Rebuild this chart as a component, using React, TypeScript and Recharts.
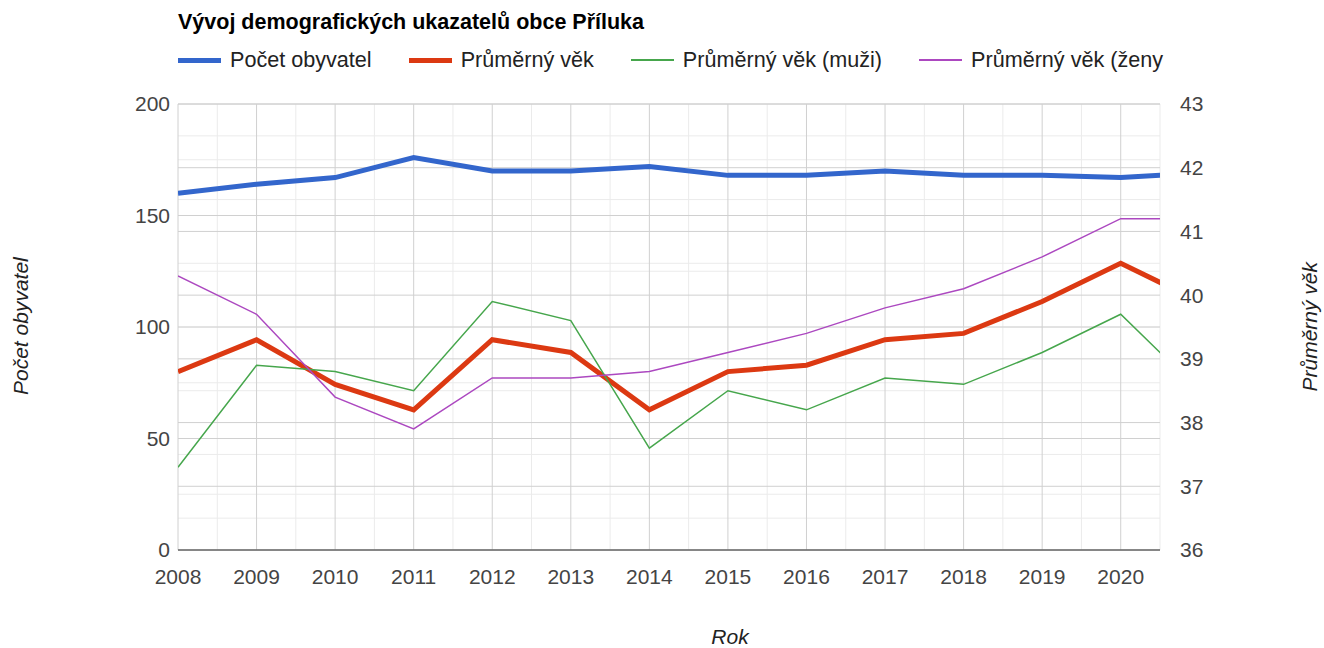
import React from 'react';
import { LineChart, Line, XAxis, YAxis, CartesianGrid } from 'recharts';

const years = [2008, 2009, 2010, 2011, 2012, 2013, 2014, 2015, 2016, 2017, 2018, 2019, 2020, 2021];
const population = [160, 164, 167, 176, 170, 170, 172, 168, 168, 170, 168, 168, 167, 169];
const avgAge = [38.8, 39.3, 38.6, 38.2, 39.3, 39.1, 38.2, 38.8, 38.9, 39.3, 39.4, 39.9, 40.5, 39.9];
const avgAgeMen = [37.3, 38.9, 38.8, 38.5, 39.9, 39.6, 37.6, 38.5, 38.2, 38.7, 38.6, 39.1, 39.7, 38.5];
const avgAgeWomen = [40.3, 39.7, 38.4, 37.9, 38.7, 38.7, 38.8, 39.1, 39.4, 39.8, 40.1, 40.6, 41.2, 41.2];

const yearTicks = [2008, 2009, 2010, 2011, 2012, 2013, 2014, 2015, 2016, 2017, 2018, 2019, 2020];
const halfYears = [2008.5, 2009.5, 2010.5, 2011.5, 2012.5, 2013.5, 2014.5, 2015.5, 2016.5, 2017.5, 2018.5, 2019.5, 2020.5];
const leftTicks = [0, 50, 100, 150, 200];
const leftMinor = [25, 75, 125, 175];
const rightTicks = [36, 37, 38, 39, 40, 41, 42, 43];
const rightMinor = [36.5, 37.5, 38.5, 39.5, 40.5, 41.5, 42.5];

const series = [
  { key: 'pop', name: 'Počet obyvatel', color: '#3366cc', width: 5, axis: 'left' },
  { key: 'age', name: 'Průměrný věk', color: '#dc3912', width: 5, axis: 'right' },
  { key: 'men', name: 'Průměrný věk (muži)', color: '#46a64c', width: 1.5, axis: 'right' },
  { key: 'women', name: 'Průměrný věk (ženy', color: '#ac48c0', width: 1.5, axis: 'right' },
];

const data = years.map((year, i) => ({
  year,
  pop: population[i],
  age: avgAge[i],
  men: avgAgeMen[i],
  women: avgAgeWomen[i],
}));

const font = '"Liberation Sans", Arial, sans-serif';
const tickStyle = { fill: '#444', fontSize: 21, fontFamily: font };
const labelStyle = { fill: '#222', fontSize: 21, fontStyle: 'italic', fontFamily: font };

const Header = () => (
  <div style={{ position: 'absolute', left: 178, top: 10, fontFamily: font, whiteSpace: 'nowrap' }}>
    <div style={{ fontWeight: 'bold', fontSize: 21.5, color: '#000', height: 30 }}>
      Vývoj demografických ukazatelů obce Příluka
    </div>
    <div style={{ display: 'flex', alignItems: 'center', fontSize: 21.6, color: '#222', marginTop: 7 }}>
      {series.map((s) => (
        <div key={s.key} style={{ display: 'flex', alignItems: 'center', marginRight: 37 }}>
          <div style={{ width: 43, height: s.width > 2 ? 5 : 2, background: s.color, marginRight: 9 }} />
          <span>{s.name}</span>
        </div>
      ))}
    </div>
  </div>
);

export default function App() {
  return (
    <div style={{ position: 'absolute', left: 0, top: 0, width: 1324, height: 648, background: '#fff', overflow: 'hidden' }}>
      <LineChart width={1324} height={648} data={data} margin={{ top: 104, right: 0, bottom: 0, left: 0 }}>
        <CartesianGrid yAxisId="left" horizontalValues={leftMinor} vertical={false} stroke="#ebebeb" />
        <CartesianGrid yAxisId="right" horizontalValues={rightMinor} vertical={false} stroke="#ebebeb" />
        <CartesianGrid verticalValues={halfYears} horizontal={false} stroke="#ebebeb" />
        <CartesianGrid yAxisId="left" horizontalValues={leftTicks} vertical={false} stroke="#d0d0d0" />
        <CartesianGrid yAxisId="right" horizontalValues={rightTicks} vertical={false} stroke="#d0d0d0" />
        <CartesianGrid verticalValues={yearTicks} horizontal={false} stroke="#d0d0d0" />
        <XAxis
          dataKey="year"
          type="number"
          domain={[2008, 2020.5]}
          allowDataOverflow
          ticks={yearTicks}
          tickSize={0}
          tickMargin={19}
          tick={tickStyle}
          stroke="#333"
          height={98}
          label={{ value: 'Rok', position: 'insideBottom', offset: 0, dy: -4, dx: 61, ...labelStyle }}
        />
        <YAxis
          yAxisId="left"
          domain={[0, 200]}
          ticks={leftTicks}
          width={178}
          tickSize={0}
          tickMargin={8}
          tick={tickStyle}
          axisLine={false}
          label={{ value: 'Počet obyvatel', angle: -90, position: 'insideLeft', offset: 21, dy: 68, ...labelStyle }}
        />
        <YAxis
          yAxisId="right"
          orientation="right"
          domain={[36, 43]}
          ticks={rightTicks}
          width={164}
          tickSize={0}
          tickMargin={20}
          tick={tickStyle}
          axisLine={false}
          label={{ value: 'Průměrný věk', angle: -90, position: 'insideRight', offset: 14, dy: -65, ...labelStyle }}
        />
        {series.map((s) => (
          <Line
            key={s.key}
            yAxisId={s.axis}
            dataKey={s.key}
            name={s.name}
            stroke={s.color}
            strokeWidth={s.width}
            dot={false}
            activeDot={false}
            type="linear"
            isAnimationActive={false}
          />
        ))}
      </LineChart>
      <Header />
    </div>
  );
}
